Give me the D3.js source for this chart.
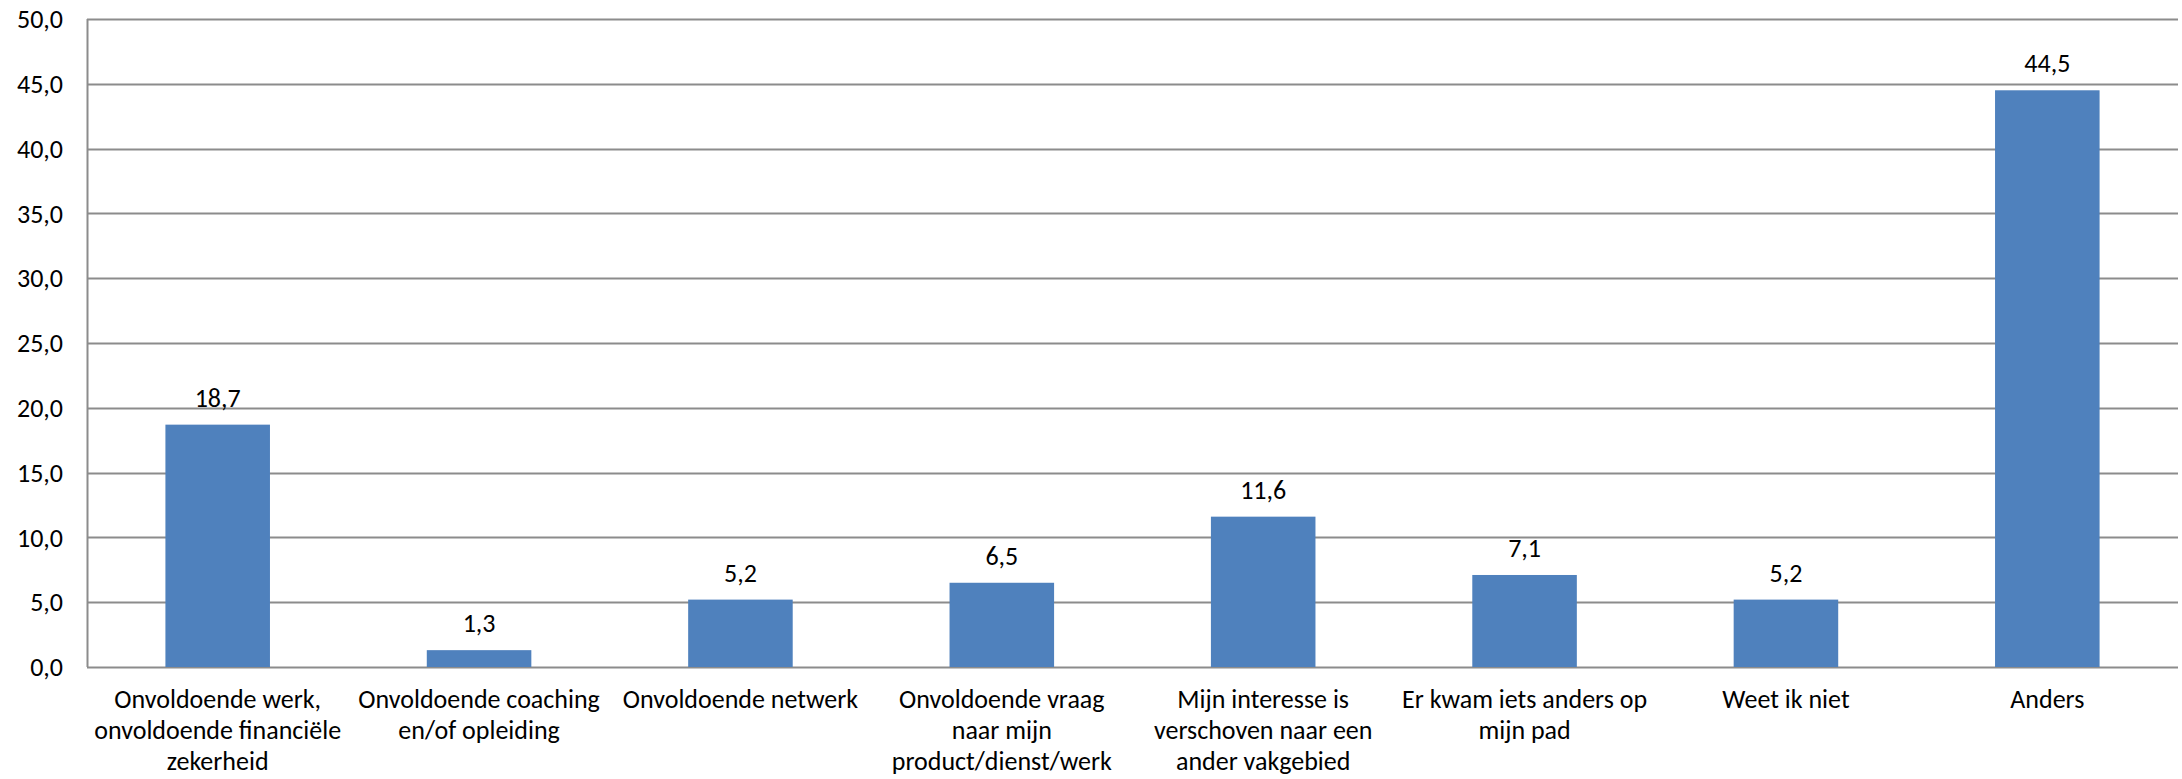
<!DOCTYPE html>
<html>
<head>
<meta charset="utf-8">
<script src="https://cdn.jsdelivr.net/npm/d3@7"></script>
<style>
  html, body { margin: 0; padding: 0; background: #fff; }
  svg text { font-family: Carlito, Calibri, Lato, "Noto Sans", sans-serif; fill: #000; }
</style>
</head>
<body>
<svg id="chart" width="2182" height="779"></svg>
<script>
// Categories, one array of lines per label (wrapped as in the original)
var categories = [
    ["Onvoldoende werk,", "onvoldoende financiële", "zekerheid"],
    ["Onvoldoende coaching", "en/of opleiding"],
    ["Onvoldoende netwerk"],
    ["Onvoldoende vraag", "naar mijn", "product/dienst/werk"],
    ["Mijn interesse is", "verschoven naar een", "ander vakgebied"],
    ["Er kwam iets anders op", "mijn pad"],
    ["Weet ik niet"],
    ["Anders"]
];

// Percentages per category
var values = [18.7, 1.3, 5.2, 6.5, 11.6, 7.1, 5.2, 44.5];

// Y axis ticks
var yTicks = [0, 5, 10, 15, 20, 25, 30, 35, 40, 45, 50];

var svg = d3.select("#chart");
var margin = { top: 19, right: 4, bottom: 112, left: 87 };
var width = 2182 - margin.left - margin.right;
var height = 779 - margin.top - margin.bottom;

// Dutch number format: comma as decimal separator
var nl = d3.formatLocale({ decimal: ",", thousands: ".", grouping: [3], currency: ["€", ""] });
var fmt = nl.format(".1f");

var g = svg.append("g")
    .attr("transform", "translate(" + margin.left + "," + margin.top + ")");

var x = d3.scaleBand()
    .domain(d3.range(categories.length))
    .range([0, width])
    .paddingInner(0.6)
    .paddingOuter(0.3);

var y = d3.scaleLinear()
    .domain([0, 50])
    .range([height, 0]);

// Gridlines
g.append("g")
    .selectAll("line")
    .data(yTicks)
    .enter()
    .append("line")
    .attr("x1", 0)
    .attr("x2", width)
    .attr("y1", function (d) { return Math.round(y(d)) + 0.5; })
    .attr("y2", function (d) { return Math.round(y(d)) + 0.5; })
    .style("stroke", "#8c8c8c")
    .style("stroke-width", 2);

// Y axis line
g.append("line")
    .attr("x1", 0.5).attr("x2", 0.5)
    .attr("y1", y(50)).attr("y2", y(0))
    .style("stroke", "#8c8c8c")
    .style("stroke-width", 2);

// Y tick labels
g.append("g")
    .selectAll("text")
    .data(yTicks)
    .enter()
    .append("text")
    .attr("x", -24)
    .attr("y", function (d) { return y(d); })
    .attr("dy", "0.35em")
    .attr("text-anchor", "end")
    .style("font-size", "26px")
    .text(function (d) { return fmt(d); });

// Bars
g.append("g")
    .selectAll("rect")
    .data(values)
    .enter()
    .append("rect")
    .attr("x", function (d, i) { return x(i); })
    .attr("y", function (d) { return y(d); })
    .attr("width", x.bandwidth())
    .attr("height", function (d) { return y(0) - y(d); })
    .style("fill", "#4f81bd");

// Value labels above bars
g.append("g")
    .selectAll("text")
    .data(values)
    .enter()
    .append("text")
    .attr("x", function (d, i) { return x(i) + x.bandwidth() / 2; })
    .attr("y", function (d) { return y(d) - 27; })
    .attr("dy", "0.35em")
    .attr("text-anchor", "middle")
    .style("font-size", "26px")
    .text(function (d) { return fmt(d); });

// Category labels, multi-line
var labels = g.append("g")
    .selectAll("text")
    .data(categories)
    .enter()
    .append("text")
    .attr("text-anchor", "middle")
    .attr("transform", function (d, i) {
        return "translate(" + (x(i) + x.bandwidth() / 2) + "," + (height + 32) + ")";
    })
    .style("font-size", "26px");

labels.selectAll("tspan")
    .data(function (d) { return d; })
    .enter()
    .append("tspan")
    .attr("x", 0)
    .attr("y", function (d, i) { return i * 31; })
    .attr("dy", "0.33em")
    .text(function (d) { return d; });
</script>
</body>
</html>
